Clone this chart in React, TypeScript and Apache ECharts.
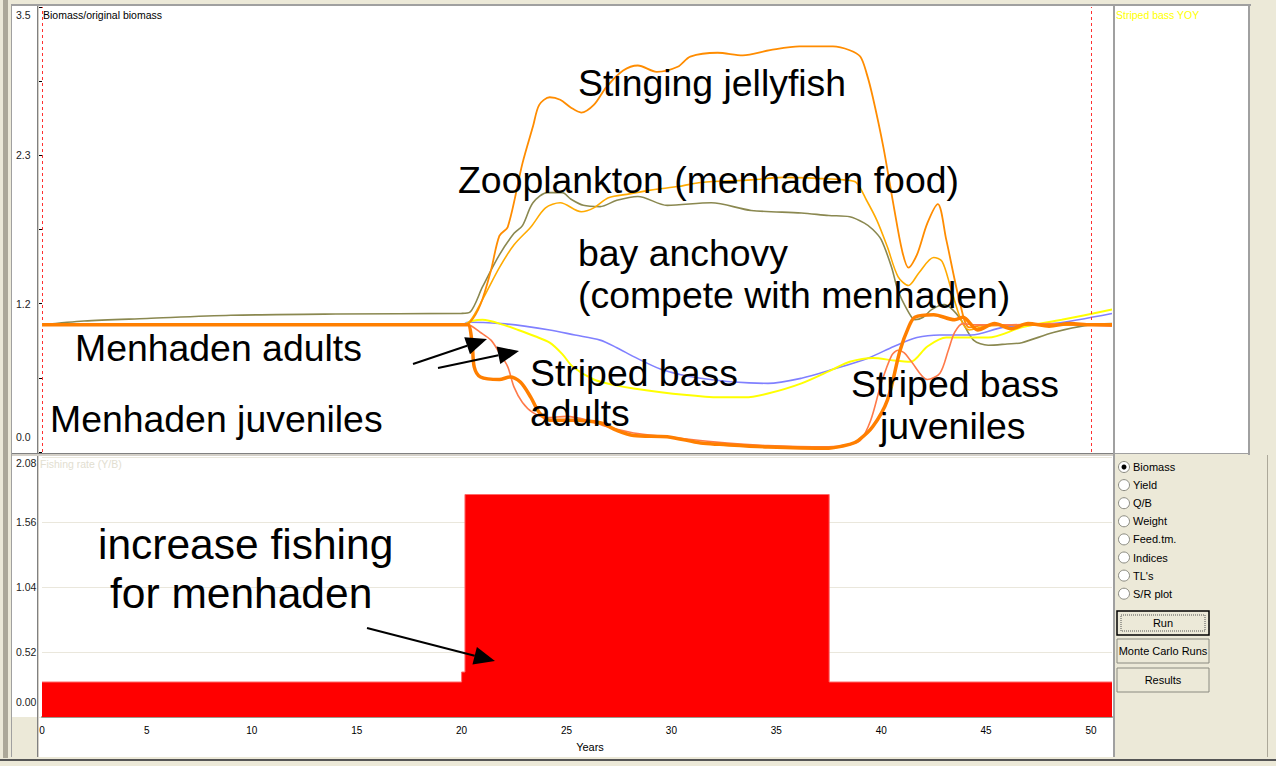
import React, { useEffect, useRef } from "react";
import * as echarts from "echarts";

type Pt = [number, number];

// ---------- data ----------
const xTickValues = [0, 5, 10, 15, 20, 25, 30, 35, 40, 45, 50];
const biomassTickValues = [0, 1.16667, 2.33333, 3.5];
const fishingTickValues = [0, 0.52, 1.04, 1.56, 2.08];
const referenceYears = [0, 50];

const stingingJellyfish: Pt[] = [
  [0, 1.0], [20, 1.0], [20.4, 1.02], [20.9, 1.16], [21.4, 1.43], [21.8, 1.7], [22.2, 1.77], [22.9, 2.27],
  [23.4, 2.56], [23.7, 2.73], [24.2, 2.79], [24.7, 2.77], [25.2, 2.71], [25.7, 2.67], [26.3, 2.73],
  [26.9, 2.87], [27.7, 3.0], [28.4, 3.04], [29.3, 2.99], [30.3, 3.03], [30.9, 3.11], [32.2, 3.14],
  [33.4, 3.12], [34.7, 3.16], [36.1, 3.19], [37.7, 3.19], [38.5, 3.16], [39.0, 3.11], [39.3, 2.98],
  [39.6, 2.79], [40.1, 2.4], [40.6, 1.93], [41.0, 1.58], [41.3, 1.45], [41.7, 1.55], [42.2, 1.8],
  [42.7, 1.95], [43.1, 1.67], [43.8, 1.14], [44.2, 0.98], [45.0, 1.0], [47, 1.0], [49, 1.0], [51, 1.0],
];

const zooplanktonOrange: Pt[] = [
  [0, 1.0], [20, 1.0], [20.4, 1.03], [21.0, 1.2], [21.8, 1.45], [22.5, 1.63], [23.3, 1.77], [24.0, 1.92],
  [24.7, 1.96], [25.7, 1.89], [26.3, 1.92], [27.0, 2.0], [28.0, 2.03], [29.0, 2.06], [30.4, 2.09],
  [31.4, 2.12], [33.8, 2.14], [35.4, 2.16], [37.2, 2.15], [38.2, 2.14], [38.8, 2.12], [39.3, 1.98],
  [39.8, 1.82], [40.3, 1.61], [40.8, 1.38], [41.3, 1.31], [41.8, 1.41], [42.5, 1.53], [42.9, 1.5],
  [43.3, 1.3], [43.8, 1.04], [44.2, 0.96], [45.0, 0.99], [47, 1.0], [49, 1.0], [51, 1.0],
];

const zooplanktonOlive: Pt[] = [
  [0, 1.0], [2, 1.03], [5, 1.05], [9, 1.075], [14, 1.085], [20, 1.09], [20.4, 1.1], [21.0, 1.3],
  [21.8, 1.55], [22.5, 1.72], [22.9, 1.78], [23.4, 1.96], [24.1, 2.04], [24.8, 2.04], [25.2, 1.99],
  [25.8, 1.94], [26.6, 1.93], [27.4, 1.98], [28.4, 2.01], [29.8, 1.94], [31.9, 1.96], [33.8, 1.9],
  [36.2, 1.88], [37.5, 1.86], [38.5, 1.85], [39.2, 1.8], [39.6, 1.75], [40.0, 1.67], [40.5, 1.45],
  [40.8, 1.27], [41.3, 1.1], [41.6, 1.04], [42.0, 1.06], [42.4, 1.12], [43.0, 1.16], [43.4, 1.12],
  [43.8, 1.04], [44.4, 0.88], [45.1, 0.84], [46.0, 0.85], [46.7, 0.86], [48.2, 0.94], [49.9, 1.0], [51, 1.01],
];

const bayAnchovy: Pt[] = [
  [0, 1.0], [20, 1.0], [20.3, 1.02], [21.9, 1.01], [23.0, 0.99], [24.2, 0.96], [25.4, 0.92], [26.6, 0.88],
  [27.4, 0.82], [28.2, 0.75], [29.5, 0.65], [30.4, 0.61], [31.4, 0.58], [33.0, 0.55], [34.6, 0.54],
  [36.2, 0.58], [37.7, 0.65], [39.4, 0.74], [40.6, 0.83], [41.7, 0.9], [42.8, 0.92], [44.3, 0.92],
  [45.8, 0.98], [48.2, 1.01], [51, 1.09],
];

const stripedBassAdults: Pt[] = [
  [0, 1.0], [20, 1.0], [20.5, 1.03], [21.0, 1.04], [22.0, 1.0], [22.7, 0.96], [23.5, 0.91], [24.2, 0.86],
  [24.8, 0.77], [25.3, 0.67], [26.3, 0.57], [27.2, 0.53], [28.2, 0.5], [30.6, 0.45], [32.3, 0.43],
  [33.5, 0.43], [34.6, 0.46], [36.2, 0.54], [37.7, 0.65], [38.5, 0.71], [39.6, 0.74], [40.6, 0.72],
  [41.4, 0.71], [42.2, 0.83], [43.1, 0.9], [45.1, 0.9], [46.7, 0.98], [48.6, 1.04], [51, 1.12],
];

const menhadenAdults: Pt[] = [
  [0, 1.0], [20, 1.0], [20.3, 1.0], [20.5, 0.86], [20.6, 0.67], [20.9, 0.59], [21.8, 0.57], [22.3, 0.59],
  [22.8, 0.55], [23.3, 0.43], [23.7, 0.31], [24.2, 0.25], [25.3, 0.25], [26.6, 0.23], [27.4, 0.17],
  [28.2, 0.13], [29.8, 0.12], [31.4, 0.07], [32.3, 0.06], [34.6, 0.04], [37.5, 0.03], [38.5, 0.06],
  [38.9, 0.09], [39.6, 0.2], [40.3, 0.41], [40.9, 0.8], [41.3, 0.98], [41.6, 1.06], [42.5, 1.08],
  [43.5, 1.04], [43.9, 1.06], [44.6, 0.96], [45.4, 1.01], [46.2, 0.97], [47.0, 1.01], [48.0, 0.99],
  [49.0, 1.01], [50.0, 1.0], [51, 1.0],
];

const menhadenJuveniles: Pt[] = [
  [0, 1.0], [20, 1.0], [20.3, 1.0], [20.9, 0.94], [21.4, 0.88], [21.8, 0.78], [22.2, 0.67], [22.5, 0.51],
  [22.9, 0.39], [23.4, 0.31], [24.1, 0.27], [25.0, 0.28], [26.0, 0.25], [26.9, 0.2], [28.2, 0.15],
  [29.8, 0.12], [32.0, 0.08], [34.6, 0.05], [37.5, 0.04], [38.5, 0.06], [39.0, 0.09], [39.5, 0.25],
  [40.0, 0.54], [40.5, 0.76], [40.8, 0.8], [41.1, 0.78], [41.4, 0.72], [42.2, 0.57], [42.8, 0.62],
  [43.2, 0.8], [43.5, 0.94], [43.9, 1.01], [44.5, 1.0], [46.0, 1.0], [48.0, 1.01], [51, 0.99],
];

const fishingRate: Pt[] = [
  [0, 0.28], [20.0, 0.36], [20.16, 1.78], [37.52, 0.28], [51, 0.28],
];

const radioOptions = ["Biomass", "Yield", "Q/B", "Weight", "Feed.tm.", "Indices", "TL's", "S/R plot"];
const buttonLabels = ["Run", "Monte Carlo Runs", "Results"];

// ---------- chrome helpers ----------
const SANS = '"Liberation Sans", Arial, sans-serif';

const rect = (x: number, y: number, w: number, h: number, fill: string, z = -10, stroke?: string, lw = 1, dash?: number[]) => ({
  type: "rect",
  z,
  silent: true,
  shape: { x, y, width: w, height: h },
  style: stroke ? { fill, stroke, lineWidth: lw, lineDash: dash } : { fill },
});

const text = (t: string, x: number, y: number, fontSize: number, fill = "#000", align = "left", vAlign = "middle", z = 50) => ({
  type: "text",
  z,
  silent: true,
  x,
  y,
  style: {
    text: t,
    fill,
    fontSize,
    fontFamily: SANS,
    align,
    verticalAlign: vAlign,
    textAlign: align,
    textVerticalAlign: vAlign,
  },
});

const arrow = (x1: number, y1: number, x2: number, y2: number) => {
  const dx = x2 - x1;
  const dy = y2 - y1;
  const len = Math.sqrt(dx * dx + dy * dy);
  const ux = dx / len;
  const uy = dy / len;
  const L = 21;
  const W = 9;
  const bx = x2 - ux * L;
  const by = y2 - uy * L;
  return [
    {
      type: "line",
      z: 60,
      silent: true,
      shape: { x1, y1, x2: bx, y2: by },
      style: { stroke: "#000", lineWidth: 2 },
    },
    {
      type: "polygon",
      z: 60,
      silent: true,
      shape: { points: [[x2, y2], [bx - uy * W, by + ux * W], [bx + uy * W, by - ux * W]] },
      style: { fill: "#000" },
    },
  ];
};

function buildGraphics() {
  const g: any[] = [];
  // frame / panels
  g.push(rect(3, 0, 5, 758, "#ACA899"));
  g.push(rect(0, 759, 1276, 2, "#555555"));
  g.push(rect(11, 4, 1240, 2, "#A0A0A0"));
  g.push(rect(11, 4, 1, 753, "#A0A0A0"));
  g.push(rect(12, 6, 25, 711, "#FFFFFF"));
  g.push(rect(37, 6, 1, 751, "#808080"));
  g.push(rect(38, 6, 1, 751, "#D4D0C8"));
  g.push(rect(39, 6, 1074, 447, "#FFFFFF"));
  g.push(rect(12, 453, 1101, 1, "#808080"));
  g.push(rect(12, 454, 1101, 2, "#D4D0C8"));
  g.push(rect(39, 456, 1074, 261, "#FFFFFF"));
  g.push(rect(39, 718, 1074, 39, "#FFFFFF"));
  g.push(rect(1113, 4, 2, 753, "#A0A0A0"));
  g.push(rect(1115, 6, 133, 447, "#FFFFFF"));
  g.push(rect(1248, 4, 2, 451, "#A0A0A0"));
  g.push(rect(1115, 453, 135, 1, "#A0A0A0"));
  g.push(rect(1267, 455, 1, 302, "#ACA899"));

  // panel captions
  g.push(text("Biomass/original biomass", 43, 15, 10.5, "#000"));
  g.push(text("Fishing rate (Y/B)", 40, 464, 10.5, "#E2DED0"));
  g.push(text("Striped bass YOY", 1116, 15, 10.5, "#FFFF00"));

  // radio buttons
  radioOptions.forEach((label, i) => {
    const cy = 467 + i * 18.1;
    g.push({
      type: "circle",
      z: 20,
      silent: true,
      shape: { cx: 1124, cy, r: 5.5 },
      style: { fill: "#FFFFFF", stroke: "#8A8A80", lineWidth: 1 },
    });
    if (i === 0) {
      g.push({
        type: "circle",
        z: 21,
        silent: true,
        shape: { cx: 1124, cy, r: 2.5 },
        style: { fill: "#000" },
      });
    }
    g.push(text(label, 1133, cy, 11, "#000"));
  });

  // buttons
  const btnY = [611, 639, 668];
  buttonLabels.forEach((label, i) => {
    const y = btnY[i];
    g.push(rect(1117, y, 92, 24, "#ECE9D8", 20, i === 0 ? "#000000" : "#8A8A80", i === 0 ? 1.5 : 1));
    if (i === 0) g.push(rect(1121, y + 4, 84, 16, "none", 21, "#555555", 1, [1, 1]));
    g.push(text(label, 1163, y + 12, 11, "#000", "center"));
  });

  // annotations
  const big = 37.4;
  g.push(text("Stinging jellyfish", 578, 83, big));
  g.push(text("Zooplankton (menhaden food)", 458, 180, big));
  g.push(text("bay anchovy", 578, 253, big));
  g.push(text("(compete with menhaden)", 578, 295, big));
  g.push(text("Menhaden adults", 75, 348, big));
  g.push(text("Menhaden juveniles", 50, 419, big));
  g.push(text("Striped bass", 530, 373, big));
  g.push(text("adults", 530, 413, big));
  g.push(text("Striped bass", 851, 384, big));
  g.push(text("juveniles", 880, 426, big));
  g.push(text("increase fishing", 98, 544, 42.5));
  g.push(text("for menhaden", 110, 593, 42.5));

  g.push(...arrow(413, 364, 487, 339));
  g.push(...arrow(438, 368, 519, 351));
  g.push(...arrow(367, 628, 495, 661));
  return g;
}

const lineSeries = (name: string, data: Pt[], color: string, width: number, z = 3) => ({
  name,
  type: "line",
  xAxisIndex: 0,
  yAxisIndex: 0,
  data,
  smooth: 0.3,
  symbol: "none",
  z,
  color,
  lineStyle: { color, width },
});

export default function App() {
  const ref = useRef<HTMLDivElement>(null);

  useEffect(() => {
    if (!ref.current) return;
    const chart = echarts.init(ref.current, undefined, { renderer: "svg" });

    const labelStyle = { fontSize: 10.5, color: "#222", fontFamily: SANS, align: "left" as const, margin: 26 };
    const hidden = { axisLine: { show: false }, axisTick: { show: false }, splitLine: { show: false } };
    const dashStyle = { color: "#FF3030", type: [3, 3], width: 1, opacity: 1 };

    chart.setOption({
      animation: false,
      backgroundColor: "#ECE9D8",
      textStyle: { fontFamily: SANS },
      grid: [
        { left: 42, top: 7, width: 1070, height: 445 },
        { left: 42, top: 457, width: 1070, height: 260 },
      ],
      xAxis: [
        { type: "value", gridIndex: 0, min: 0, max: 51, show: false },
        {
          type: "value",
          gridIndex: 1,
          min: 0,
          max: 51,
          interval: 5,
          axisLine: { show: true, lineStyle: { color: "#9C9A8E", width: 2 } },
          axisTick: { show: false },
          splitLine: { show: false },
          axisLabel: { customValues: xTickValues, fontSize: 10, color: "#000", margin: 8, fontFamily: SANS },
          name: "Years",
          nameLocation: "middle",
          nameGap: 24,
          nameTextStyle: { fontSize: 11, color: "#000", padding: [0, 0, 0, 26], fontFamily: SANS },
        },
      ],
      yAxis: [
        {
          type: "value",
          gridIndex: 0,
          position: "left",
          min: 0,
          max: 3.5,
          interval: 3.5 / 6,
          axisLine: { show: false },
          axisTick: { show: true, length: 3, lineStyle: { color: "#000", width: 1 } },
          splitLine: { show: false },
          axisLabel: {
            ...labelStyle,
            customValues: [biomassTickValues[1], biomassTickValues[2]],
            formatter: (v: number) => v.toFixed(1),
            verticalAlign: "middle",
          },
        },
        {
          type: "value",
          gridIndex: 0,
          position: "left",
          min: 0,
          max: 3.5,
          ...hidden,
          axisLabel: {
            ...labelStyle,
            customValues: [biomassTickValues[3]],
            formatter: (v: number) => v.toFixed(1),
            verticalAlign: "top",
            padding: [2, 0, 0, 0],
          },
        },
        {
          type: "value",
          gridIndex: 0,
          position: "left",
          min: 0,
          max: 3.5,
          ...hidden,
          axisLabel: {
            ...labelStyle,
            customValues: [biomassTickValues[0]],
            formatter: (v: number) => v.toFixed(1),
            verticalAlign: "bottom",
            padding: [0, 0, 10, 0],
          },
        },
        {
          type: "value",
          gridIndex: 1,
          position: "left",
          min: 0,
          max: 2.08,
          interval: 0.52,
          axisLine: { show: false },
          axisTick: { show: false },
          splitLine: { show: true, lineStyle: { color: "#EAE7DC", width: 1 } },
          axisLabel: {
            ...labelStyle,
            customValues: [fishingTickValues[1], fishingTickValues[2], fishingTickValues[3]],
            formatter: (v: number) => v.toFixed(2),
            verticalAlign: "middle",
            padding: [0, 0, 8, 0],
          },
        },
        {
          type: "value",
          gridIndex: 1,
          position: "left",
          min: 0,
          max: 2.08,
          ...hidden,
          axisLabel: {
            ...labelStyle,
            customValues: [fishingTickValues[4]],
            formatter: (v: number) => v.toFixed(2),
            verticalAlign: "top",
          },
        },
        {
          type: "value",
          gridIndex: 1,
          position: "left",
          min: 0,
          max: 2.08,
          ...hidden,
          axisLabel: {
            ...labelStyle,
            customValues: [fishingTickValues[0]],
            formatter: (v: number) => v.toFixed(2),
            verticalAlign: "bottom",
            padding: [0, 0, 10, 0],
          },
        },
      ],
      graphic: buildGraphics(),
      series: [
        lineSeries("Zooplankton", zooplanktonOlive, "#8A8850", 1.6, 3),
        lineSeries("Bay anchovy", bayAnchovy, "#8080FF", 1.6, 3),
        lineSeries("Striped bass adults", stripedBassAdults, "#FFFF00", 2, 4),
        lineSeries("Zooplankton 2", zooplanktonOrange, "#FFAA00", 1.6, 4),
        lineSeries("Stinging jellyfish", stingingJellyfish, "#FF8C00", 1.8, 5),
        {
          ...lineSeries("Menhaden juveniles", menhadenJuveniles, "#FF7A4A", 1.6, 6),
          markLine: {
            silent: true,
            symbol: "none",
            label: { show: false },
            lineStyle: dashStyle,
            emphasis: { disabled: true },
            data: referenceYears.map((yr) => ({ xAxis: yr, lineStyle: dashStyle })),
          },
        },
        lineSeries("Menhaden adults", menhadenAdults, "#FF7F00", 3.5, 7),
        {
          name: "Fishing rate",
          type: "line",
          xAxisIndex: 1,
          yAxisIndex: 3,
          data: fishingRate,
          step: "end",
          symbol: "none",
          color: "#FF0000",
          lineStyle: { color: "#FF6A6A", width: 1 },
          areaStyle: { color: "#FF0000", opacity: 1 },
        },
      ],
    });

    return () => chart.dispose();
  }, []);

  return (
    <div
      ref={ref}
      style={{ position: "fixed", left: 0, top: 0, width: 1276, height: 766 }}
    />
  );
}
